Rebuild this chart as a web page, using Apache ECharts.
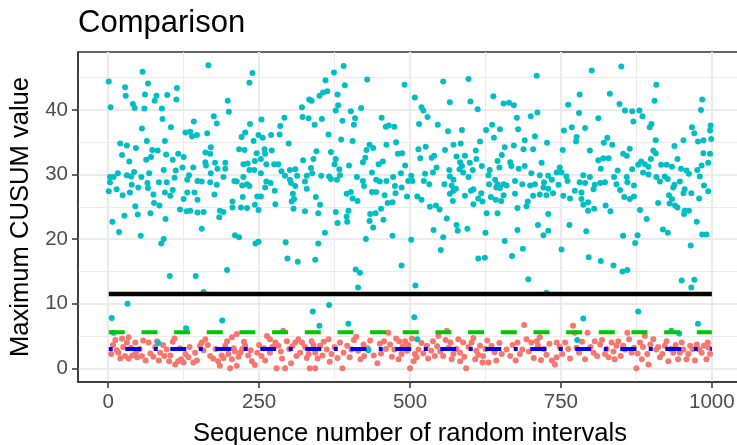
<!DOCTYPE html>
<html>
<head>
<meta charset="utf-8">
<script src="https://cdn.jsdelivr.net/npm/echarts@6/dist/echarts.min.js"></script>
<style>html,body{margin:0;padding:0;background:#fff}#c{width:737px;height:445px}</style>
</head>
<body>
<div id="c"></div>
<script>
const titleText = 'Comparison';
const xTitle = 'Sequence number of random intervals';
const yTitle = 'Maximum CUSUM value';
const xTicks = [0, 250, 500, 750, 1000];
const xMinor = [125, 375, 625, 875];
const yTicks = [0, 10, 20, 30, 40];
const yMinor = [5, 15, 25, 35, 45];

// teal points (random intervals)
const tealA = [[57,45.9],[1,44.4],[66,44.1],[28,43.5],[114,43.4],[61,42.4],[29,42.2],[80,42.2],[98,42.3],[77,41.4],[113,41.6],[41,40.9],[44,40.3],[60,40.2],[4,40.4],[89,40.2],[90,38.6],[142,38.2],[104,37.3],[56,37.1],[128,36.5],[136,36.6],[139,35.9],[147,36.1],[20,34.8],[31,34.5],[64,35.2],[94,35.2],[46,34.1],[23,33.0],[73,33.8],[82,33.7],[96,33.1],[125,32.7],[116,33.2],[35,32.0],[71,32.7],[63,32.3],[107,32.3],[92,30.7],[112,30.6],[123,31.1],[141,31.1],[16,30.2],[3,29.6],[9,29.6],[31,29.9],[43,30.4],[38,29.7],[55,29.6],[68,30.2],[134,29.9],[131,29.2],[148,29.0],[110,29.5],[84,28.8],[97,28.8],[50,28.0],[65,28.7],[66,27.9],[39,28.4],[1,27.4],[3,28.8],[14,27.7],[24,26.8],[36,27.2],[107,27.6],[103,26.7],[94,27.2],[131,27.2],[143,27.2],[75,26.9],[125,26.2],[148,26.1],[45,25.1],[76,25.6],[85,25.2],[119,24.6],[130,24.3],[136,24.4],[148,24.1],[49,23.8],[70,24.0],[27,23.6],[95,23.1],[7,22.7],[18,21.1],[54,20.5],[92,20.0],[88,19.3],[102,14.3],[145,14.3]];
const tealB = [[166,46.9],[239,45.7],[234,44.2],[198,41.4],[321,40.4],[200,39.7],[175,39.0],[180,37.9],[322,38.9],[235,37.8],[254,38.5],[292,38.8],[164,36.4],[227,36.5],[221,35.8],[285,37.5],[284,36.2],[270,36.1],[249,36.1],[256,35.7],[241,35.2],[299,34.8],[170,34.2],[161,33.4],[217,33.9],[226,33.8],[259,33.9],[271,33.7],[169,33.2],[246,33.3],[260,33.2],[253,32.4],[323,32.2],[161,31.9],[177,31.8],[194,31.8],[224,31.6],[231,31.7],[243,32.1],[262,31.6],[275,31.6],[282,31.6],[162,31.4],[181,30.9],[194,30.9],[234,30.7],[242,30.7],[287,30.5],[301,30.7],[310,30.8],[170,30.2],[253,30.2],[293,29.8],[313,29.8],[191,29.6],[224,29.6],[155,28.9],[209,29.0],[213,28.9],[222,28.3],[230,28.5],[234,28.2],[262,28.9],[269,28.7],[301,29.2],[303,28.7],[310,28.2],[169,28.8],[180,28.4],[260,28.0],[276,27.5],[176,26.9],[223,26.5],[247,26.6],[253,26.6],[306,27.0],[308,26.2],[206,25.8],[243,25.3],[277,25.4],[304,25.8],[206,24.9],[220,24.9],[230,24.8],[249,24.5],[307,24.7],[158,24.2],[185,24.4],[191,24.2],[184,23.4],[155,21.6],[210,20.6],[217,20.3],[244,19.3],[249,19.6],[294,19.5],[297,17.0],[314,16.5],[197,15.2],[158,11.8]];
const tealC = [[390,46.8],[374,45.8],[360,44.6],[429,44.7],[392,43.8],[491,43.9],[363,42.9],[356,42.7],[350,42.2],[380,42.4],[333,41.6],[337,41.4],[381,40.7],[377,39.9],[402,39.8],[419,40.3],[332,38.7],[354,38.6],[388,38.3],[409,38.7],[407,37.7],[342,37.7],[453,38.8],[460,37.4],[465,37.6],[474,37.4],[365,36.2],[386,35.4],[405,35.2],[461,34.6],[477,35.0],[433,34.6],[439,34.1],[428,33.8],[480,33.2],[487,33.3],[345,33.6],[369,33.5],[340,32.4],[377,32.4],[426,32.6],[422,31.9],[375,31.6],[399,31.4],[492,31.4],[448,31.6],[455,32.0],[336,31.0],[383,30.8],[437,30.3],[485,30.2],[338,30.2],[329,29.8],[353,29.8],[366,29.7],[384,29.9],[412,29.6],[422,29.0],[444,29.2],[450,28.9],[461,29.0],[472,29.6],[497,29.0],[369,29.3],[379,29.2],[326,28.9],[329,27.8],[424,28.2],[475,28.2],[486,28.0],[402,27.3],[395,27.0],[437,27.3],[444,27.3],[458,26.8],[476,27.1],[495,26.6],[405,26.3],[413,25.9],[344,26.5],[351,25.3],[463,25.6],[471,25.7],[452,24.7],[326,24.3],[348,24.0],[377,24.2],[398,24.4],[434,23.9],[443,24.0],[395,23.5],[433,22.8],[456,23.0],[396,22.7],[380,22.5],[439,21.8],[359,21.0],[471,20.5],[427,20.0],[348,19.3],[343,16.8],[410,15.3],[417,14.8],[486,15.9],[414,12.5]];
const tealD = [[597,44.8],[555,44.4],[508,41.9],[566,41.2],[600,41.3],[638,42.1],[655,41.0],[664,41.1],[672,40.7],[519,40.4],[522,39.9],[612,40.1],[529,38.9],[515,37.8],[546,37.7],[563,36.7],[586,36.9],[626,36.9],[636,37.7],[649,37.0],[639,35.7],[616,35.1],[514,33.9],[526,34.3],[558,33.8],[572,34.6],[584,34.8],[609,33.7],[657,34.2],[672,34.5],[517,32.5],[536,32.6],[540,32.9],[577,32.8],[591,32.9],[610,32.4],[652,33.0],[645,32.1],[583,31.9],[599,31.8],[666,31.9],[668,31.3],[586,31.3],[544,31.1],[565,30.7],[619,31.3],[648,31.1],[538,30.3],[582,30.8],[588,30.3],[604,30.7],[632,30.7],[525,30.1],[502,29.8],[566,29.7],[597,29.6],[630,29.9],[504,29.0],[523,29.0],[532,28.5],[557,28.5],[572,29.2],[641,29.2],[645,28.5],[631,28.5],[655,28.5],[660,28.3],[569,28.3],[576,27.8],[572,27.5],[601,27.5],[605,27.7],[618,27.1],[566,27.0],[643,28.0],[649,27.9],[512,26.6],[519,26.1],[591,26.7],[613,26.3],[634,26.5],[642,26.1],[651,25.9],[655,26.8],[571,25.9],[620,25.8],[605,25.4],[543,25.2],[533,25.0],[549,24.6],[627,24.0],[645,24.0],[561,23.2],[577,22.2],[579,21.3],[595,21.6],[625,21.0],[539,21.4],[555,20.3],[502,19.9],[657,19.7],[551,18.3],[613,17.0],[624,17.1],[669,17.4],[509,12.8]];
const tealE = [[710,45.3],[801,46.1],[781,42.4],[831,42.5],[762,40.8],[711,39.6],[700,39.0],[780,39.5],[677,38.8],[812,38.7],[679,37.0],[755,36.8],[768,37.3],[790,37.2],[707,35.9],[690,35.3],[776,35.8],[775,35.1],[827,35.7],[727,34.9],[821,34.9],[835,34.6],[688,33.9],[704,33.9],[753,33.8],[798,33.7],[812,32.2],[820,32.5],[829,32.5],[718,31.8],[690,31.3],[680,30.9],[816,30.9],[748,31.1],[701,30.2],[715,29.9],[729,29.8],[743,30.3],[751,30.3],[759,29.7],[787,29.9],[798,29.6],[838,29.6],[674,29.0],[686,28.5],[699,28.3],[707,28.5],[722,28.8],[735,29.2],[746,28.4],[761,29.0],[781,28.8],[790,28.7],[806,28.4],[815,28.7],[823,28.8],[721,28.0],[729,27.8],[804,27.7],[773,27.5],[784,27.2],[674,27.0],[704,26.7],[715,26.9],[726,26.8],[737,27.1],[754,26.7],[765,26.3],[784,26.2],[695,25.8],[693,25.1],[678,24.8],[787,25.3],[795,25.7],[824,25.2],[805,24.7],[795,24.4],[832,24.3],[729,23.9],[712,22.2],[764,22.2],[729,21.3],[721,20.6],[792,21.2],[678,21.4],[687,18.5],[751,18.4],[796,17.2],[816,16.6],[837,15.9],[696,13.8],[726,11.7]];
const tealF = [[850,46.7],[908,43.9],[905,41.4],[984,41.6],[982,40.0],[847,40.9],[856,39.9],[868,39.8],[880,39.9],[885,39.0],[870,38.2],[897,37.3],[900,37.8],[967,37.3],[971,36.4],[998,37.6],[997,36.8],[907,35.3],[953,35.3],[977,35.1],[986,35.3],[999,35.5],[864,34.0],[853,33.2],[859,32.9],[938,34.4],[903,33.7],[907,33.3],[986,33.3],[997,33.2],[943,32.4],[899,32.4],[883,32.0],[878,31.5],[889,31.6],[895,31.2],[868,30.8],[916,31.5],[925,31.5],[934,31.2],[949,30.9],[976,30.7],[983,31.4],[994,31.8],[844,30.6],[886,30.3],[895,30.0],[958,30.6],[962,30.1],[980,29.7],[859,29.6],[908,29.6],[922,29.7],[927,29.3],[914,28.9],[947,28.9],[860,28.8],[842,28.5],[871,28.3],[938,28.4],[987,28.3],[936,28.0],[848,27.6],[955,27.7],[994,27.4],[953,27.1],[966,27.1],[855,26.5],[864,26.2],[871,26.6],[929,26.8],[934,26.2],[979,26.3],[930,25.5],[939,25.2],[943,24.9],[911,25.6],[955,24.4],[962,24.4],[954,23.9],[881,24.5],[892,23.1],[975,22.7],[919,21.5],[927,21.0],[877,20.6],[853,20.5],[873,19.4],[984,20.7],[991,20.7],[965,19.0],[852,15.0],[860,15.2],[950,13.6],[971,13.7],[966,12.5]];
const tealLow = [[32,10.0],[6,7.8],[9,5.5],[83,3.9],[129,6.2],[189,7.4],[339,8.8],[366,9.8],[350,6.6],[398,6.9],[431,2.8],[507,7.9],[512,4.5],[787,7.7],[777,4.4],[878,8.8],[933,5.8],[946,5.4],[977,6.9]];

// red points (other method)
const redA = [[12,4.4],[23,4.6],[34,4.8],[31,4.0],[5,2.2],[17,2.4],[20,1.5],[34,1.5],[45,4.0],[46,2.4],[48,1.7],[56,1.9],[67,4.0],[70,2.3],[75,1.8],[81,4.2],[86,2.4],[97,2.9],[110,4.6],[107,4.1],[101,1.1],[103,2.0],[116,1.1],[111,0.6],[125,0.9],[128,2.2],[133,1.7],[141,0.9],[144,2.4],[155,4.0],[161,4.5],[152,3.5],[169,1.9],[174,1.5],[188,2.0],[185,0.4],[202,0.0],[213,0.4],[197,4.2],[205,4.8],[213,5.3],[194,3.5],[199,2.2],[205,1.4],[219,2.4],[232,2.0],[238,1.1],[243,0.5],[227,3.5],[263,5.0],[268,4.5],[277,4.0],[282,3.5],[268,2.4],[254,1.9],[279,0.0],[293,0.0],[290,5.8],[296,4.2],[310,4.0],[312,1.9],[318,2.4]];
const redB = [[321,4.0],[337,4.2],[357,4.1],[351,3.5],[332,2.2],[343,2.4],[362,2.9],[370,2.2],[334,0.0],[343,0.0],[384,4.0],[390,2.4],[388,0.0],[407,4.4],[414,2.7],[423,3.7],[424,1.9],[450,3.8],[452,2.3],[464,5.5],[467,3.7],[470,1.8],[481,1.4],[482,4.2],[492,4.2],[495,2.7],[500,0.0],[506,1.1],[508,2.2],[514,2.9],[528,3.5],[530,1.5],[541,1.9],[547,5.0],[561,5.8],[559,4.4],[564,3.2],[555,1.9],[572,2.2],[588,4.0],[602,4.0],[583,2.4],[593,0.0],[583,1.1],[608,1.4],[610,2.7],[616,3.5],[621,1.9],[620,0.9],[630,0.9],[635,3.5]];
const redC = [[660,2.9],[666,1.9],[682,2.2],[689,6.7],[693,4.5],[701,4.0],[710,4.2],[712,3.5],[717,1.3],[740,0.6],[743,1.7],[743,4.0],[757,4.0],[770,6.6],[773,5.5],[794,5.5],[776,3.2],[804,2.4],[806,4.2],[815,3.7],[823,2.2],[829,1.7],[834,4.0],[839,1.4],[845,4.2],[853,3.5],[860,5.5],[867,2.4],[875,0.0],[881,4.0],[884,1.4],[889,5.0],[895,0.6],[903,4.5],[908,2.9],[914,1.7],[922,3.5],[928,1.1],[936,2.4],[944,1.4],[953,2.9],[958,1.4],[964,3.5],[975,3.7],[983,2.4],[993,4.0],[991,1.4],[997,2.2]];
const redD = [[8,3.6],[14,2.8],[25,3.3],[28,1.9],[38,3.2],[40,2.0],[52,3.0],[58,4.3],[62,1.2],[78,3.3],[84,1.2],[91,3.6],[93,1.9],[119,3.1],[121,1.4],[135,3.3],[147,1.2],[158,2.8],[165,3.6],[178,3.0],[182,1.1],[191,1.6],[208,3.1],[210,2.6],[216,1.8],[222,3.0],[225,4.1],[236,2.8],[247,2.4],[250,3.6],[258,3.1],[260,1.2],[272,3.3],[286,2.6],[288,1.5],[300,3.0],[303,0.8],[305,3.4],[315,4.5]];
const redE = [[326,3.3],[329,1.6],[340,3.6],[347,1.5],[355,2.0],[365,4.5],[367,1.0],[375,3.3],[380,1.6],[396,3.5],[400,1.7],[403,2.9],[411,4.9],[418,1.4],[430,3.1],[434,4.3],[440,2.0],[446,0.8],[457,4.2],[460,3.0],[474,2.9],[477,4.6],[486,2.2],[488,3.4],[497,3.6],[503,4.6],[511,1.7],[519,3.9],[522,2.3],[535,2.7],[538,4.2],[545,3.4],[550,2.6],[567,4.0],[569,1.4],[577,3.0],[580,4.5],[590,1.8],[597,3.3],[605,4.7],[613,2.1],[625,3.0],[628,4.3],[640,2.5],[643,1.2],[648,3.9],[652,2.2]];
const redF = [[670,3.6],[675,1.2],[678,4.0],[686,2.9],[697,2.6],[705,1.6],[715,4.8],[722,3.0],[726,2.1],[731,3.8],[735,1.2],[748,3.3],[752,2.2],[762,3.0],[765,1.5],[780,2.4],[785,4.1],[790,1.4],[799,3.3],[810,1.9],[818,4.4],[826,3.0],[837,2.6],[842,3.5],[849,1.9],[856,2.9],[863,4.5],[871,3.2],[877,2.3],[886,3.3],[893,2.2],[898,3.7],[911,3.3],[918,2.2],[925,4.2],[932,3.0],[940,3.6],[947,2.4],[950,4.0],[961,2.2],[968,3.0],[972,1.2],[979,2.9],[987,3.5],[995,3.2]];

// reference levels
const lineStart = 1, lineEnd = 1000;
const blackLevel = 11.5;
const greenLevel = 5.6;
const blueLevel = 3.0;

const tealPts = [].concat(tealA, tealB, tealC, tealD, tealE, tealF, tealLow);
const redPts = [].concat(redA, redB, redC, redD, redE, redF);

const FONT = '"Liberation Sans", Arial, Helvetica, sans-serif';
const xMin = -49.95, xMax = 1049.95;
const yMin = -2.12, yMax = 48.96;

const chart = echarts.init(document.getElementById('c'));
const tickStyle = {color: '#333333', width: 1.5};
const plain = v => String(v);
chart.setOption({
  animation: false,
  backgroundColor: '#ffffff',
  title: {
    text: titleText, left: 78, top: 8, padding: 0,
    textStyle: {fontFamily: FONT, fontSize: 31, fontWeight: 'normal', color: '#000000'}
  },
  grid: {left: 78, top: 52, width: 664, height: 330, show: true, borderColor: '#333333', borderWidth: 1.5,
    backgroundColor: 'transparent', containLabel: false, outerBoundsMode: 'none'},
  xAxis: [
    {
      type: 'value', min: xMin, max: xMax, position: 'bottom',
      axisLine: {show: true, onZero: false, lineStyle: tickStyle},
      axisTick: {show: true, length: 6, customValues: xTicks, lineStyle: tickStyle},
      axisLabel: {customValues: xTicks, formatter: plain, margin: 10, fontSize: 20.5, color: '#4d4d4d', fontFamily: FONT},
      splitLine: {show: true, lineStyle: {color: '#ebebeb', width: 2.2}},
      name: xTitle, nameLocation: 'middle', nameGap: 39,
      nameTextStyle: {fontSize: 25.6, color: '#000000', fontFamily: FONT}
    },
    {
      type: 'value', min: xMin, max: xMax, position: 'bottom',
      axisLine: {show: false}, axisTick: {show: false, customValues: xMinor}, axisLabel: {show: false},
      splitLine: {show: true, lineStyle: {color: '#ebebeb', width: 1.1}}
    }
  ],
  yAxis: [
    {
      type: 'value', min: yMin, max: yMax, position: 'left',
      axisLine: {show: true, onZero: false, lineStyle: tickStyle},
      axisTick: {show: true, length: 6, customValues: yTicks, lineStyle: tickStyle},
      axisLabel: {customValues: yTicks, formatter: plain, margin: 10, fontSize: 20.5, color: '#4d4d4d', fontFamily: FONT},
      splitLine: {show: true, lineStyle: {color: '#ebebeb', width: 2.2}},
      name: yTitle, nameLocation: 'middle', nameGap: 44,
      nameTextStyle: {fontSize: 25.6, color: '#000000', fontFamily: FONT}
    },
    {
      type: 'value', min: yMin, max: yMax, position: 'left',
      axisLine: {show: false}, axisTick: {show: false, customValues: yMinor}, axisLabel: {show: false},
      splitLine: {show: true, lineStyle: {color: '#ebebeb', width: 1.1}}
    }
  ],
  series: [
    {type: 'scatter', data: redPts, symbolSize: 6, itemStyle: {color: '#F8766D', opacity: 1}, silent: true},
    {type: 'scatter', data: tealPts, symbolSize: 6, itemStyle: {color: '#00BFC4', opacity: 1}, silent: true},
    {type: 'line', data: [[lineStart, blackLevel], [lineEnd, blackLevel]], symbol: 'none', silent: true,
      lineStyle: {color: '#000000', width: 4.3}},
    {type: 'line', data: [[lineStart, greenLevel], [lineEnd, greenLevel]], symbol: 'none', silent: true,
      lineStyle: {color: '#00C800', width: 4, type: [16, 16.67]}},
    {type: 'line', data: [[lineStart, blueLevel], [lineEnd, blueLevel]], symbol: 'none', silent: true,
      lineStyle: {color: '#0000FF', width: 4, type: [4, 12.5, 16, 12.5]}}
  ]
});
</script>
</body>
</html>
